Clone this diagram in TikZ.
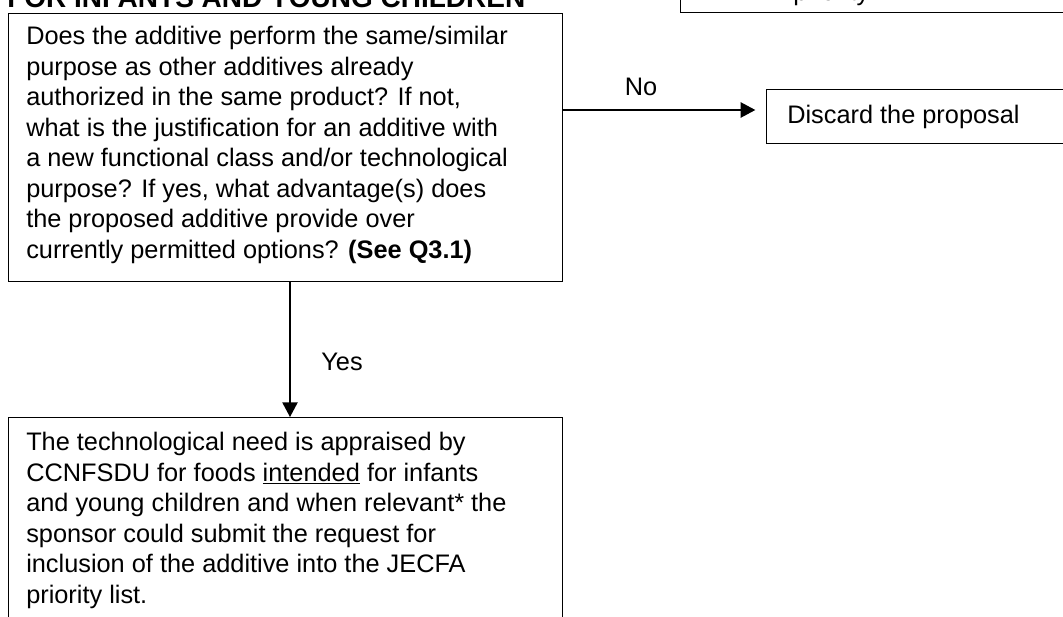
\documentclass[tikz,border=0pt]{standalone}
\usepackage{fontspec}
\setmainfont{Liberation Sans}
\usetikzlibrary{arrows.meta}
\tikzset{
  box/.style={draw=black, line width=1pt, rectangle, inner sep=0pt, anchor=north west},
  txt/.style={inner sep=0pt, align=left, anchor=north west, font=\fontsize{19pt}{22.9pt}\selectfont},
  lbl/.style={inner sep=0pt, font=\fontsize{19pt}{22.9pt}\selectfont},
  arr/.style={draw=black, line width=1pt, -{Triangle[length=11pt,width=11.5pt]}}
}
\begin{document}
\begin{tikzpicture}[x=0.75pt,y=-0.75pt]
\useasboundingbox (0,0) rectangle (1063,617);
\clip (0,0) rectangle (1063,617);
% title (cut off at top)
\node[lbl, anchor=base west, font=\fontsize{21pt}{24pt}\selectfont\bfseries] (title) at (7,8) {FOR INFANTS AND YOUNG CHILDREN};
% top-right box (cut off)
\node[box, anchor=south west, minimum width=315pt, minimum height=90pt] (tr) at (680,13) {};
\node[lbl, anchor=base west] (trt) at (793,1) {priority};
% question box
\node[box, minimum width=415.5pt, minimum height=201pt] (q) at (8,13) {};
\node[txt] (qt) at (26,26) {Does the additive perform the same/similar\\
purpose as other additives already\\
authorized in the same product? If not,\\
what is the justification for an additive with\\
a new functional class and/or technological\\
purpose? If yes, what advantage(s) does\\
the proposed additive provide over\\
currently permitted options? \textbf{(See Q3.1)}};
% discard box
\node[box, minimum width=247.5pt, minimum height=40.5pt] (d) at (766,89) {};
\node[lbl, anchor=base west] (dt) at (787,123) {Discard the proposal};
% bottom box
\node[box, minimum width=415.5pt, minimum height=157.5pt] (b) at (8,417) {};
\node[txt] (bt) at (26,432) {The technological need is appraised by\\
CCNFSDU for foods \underline{intended} for infants\\
and young children and when relevant* the\\
sponsor could submit the request for\\
inclusion of the additive into the JECFA\\
priority list.};
% connectors
\coordinate (hy) at (0,110);
\coordinate (vx) at (290,0);
\draw[arr, shorten >=8pt] (q.east |- hy) -- (d.west |- hy);
\draw[arr] (q.south -| vx) -- (b.north -| vx);
\node[lbl] (no) at (641,87) {No};
\node[lbl] (yes) at (342,362) {Yes};
\end{tikzpicture}
\end{document}
